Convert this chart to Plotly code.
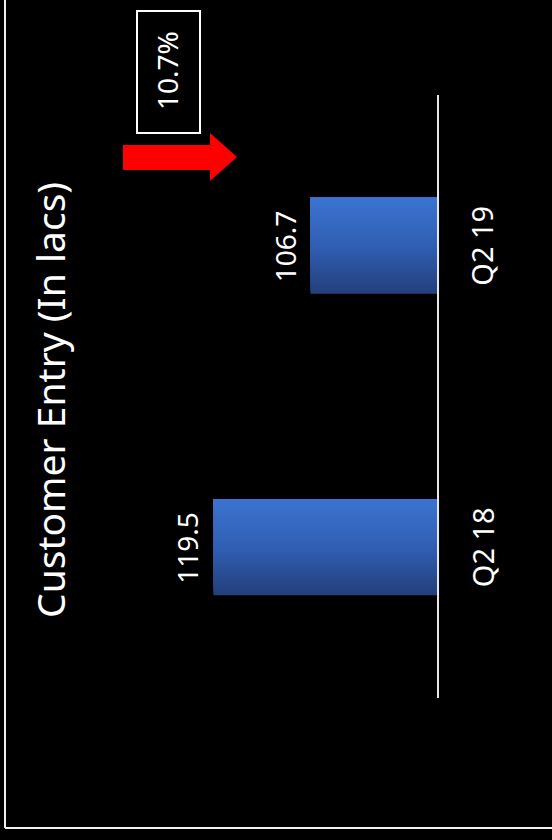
import plotly.graph_objects as go

# ---- data ----
categories = ["Q2 18", "Q2 19"]
values = [119.5, 106.7]
value_labels = ["119.5", "106.7"]
growth_label = "10.7%"
title_text = "Customer Entry (In lacs)"

# ---- page geometry (pixels) ----
W, H = 552, 840
AXIS_MIN = 90.0          # value axis starts here
PX_PER_UNIT = 7.578      # value-axis scale
BASE_X = 437             # baseline position
PLOT_TOP, PLOT_BOTTOM = 95, 698
BAR_WIDTH = 0.318
FONT = "Noto Sans"


def px(x):
    return x / W


def py(y):
    return 1 - y / H


def mix(c1, c2, t):
    return "#%02x%02x%02x" % tuple(round(a + (b - a) * t) for a, b in zip(c1, c2))


# gradient across bar thickness: dark at the bottom edge, light at the top edge
DARK, MID, LIGHT = (0x24, 0x40, 0x7c), (0x30, 0x5f, 0xb4), (0x3b, 0x73, 0xd0)


def grad(t):
    return mix(DARK, MID, t / 0.5) if t < 0.5 else mix(MID, LIGHT, (t - 0.5) / 0.5)


fig = go.Figure()

N = 40
step = BAR_WIDTH / N
for i in range(N):
    fig.add_trace(go.Bar(
        y=categories,
        x=values,
        orientation="h",
        width=BAR_WIDTH - i * step,
        offset=-BAR_WIDTH / 2 + i * step,
        marker=dict(color=grad(i / (N - 1)), line=dict(width=0)),
        showlegend=False,
        hoverinfo="skip" if i else "x+y",
    ))

annotations = []
# value labels just beyond the bar ends
for cat, val, lab in zip(categories, values, value_labels):
    annotations.append(dict(
        x=val, y=cat, xref="x", yref="y", text=lab, textangle=-90,
        showarrow=False, xanchor="right", yanchor="middle", xshift=-5,
        font=dict(family=FONT, size=28, color="white"),
    ))
# category labels below the baseline
for cat in categories:
    annotations.append(dict(
        x=px(482), y=cat, xref="paper", yref="y", text=cat, textangle=-90,
        showarrow=False, xanchor="center", yanchor="middle",
        font=dict(family=FONT, size=29, color="white"),
    ))
# chart title
annotations.append(dict(
    x=px(49), y=py(400), xref="paper", yref="paper", text=title_text,
    textangle=-90, showarrow=False, xanchor="center", yanchor="middle",
    font=dict(family=FONT, size=39, color="white"),
))
# growth badge text
annotations.append(dict(
    x=px(167), y=py(71), xref="paper", yref="paper", text=growth_label,
    textangle=-90, showarrow=False, xanchor="center", yanchor="middle",
    font=dict(family=FONT, size=28, color="white"),
))

arrow_pts = [(123, 145), (210, 145), (210, 133), (237, 157), (210, 181),
             (210, 170), (123, 170)]
arrow_path = "M " + " L ".join(f"{px(x):.5f},{py(y):.5f}" for x, y in arrow_pts) + " Z"

shapes = [
    # badge frame
    dict(type="rect", xref="paper", yref="paper",
         x0=px(137), x1=px(200), y0=py(133), y1=py(11),
         line=dict(color="white", width=2), fillcolor="rgba(0,0,0,0)"),
    # red arrow
    dict(type="path", xref="paper", yref="paper", path=arrow_path,
         fillcolor="#ff0000", line=dict(width=0)),
    # outer frame (left and bottom edges)
    dict(type="line", xref="paper", yref="paper",
         x0=px(5), x1=px(5), y0=py(0), y1=py(828),
         line=dict(color="#f0f0f0", width=2)),
    dict(type="line", xref="paper", yref="paper",
         x0=px(5), x1=px(552), y0=py(828), y1=py(828),
         line=dict(color="#f0f0f0", width=2)),
]

fig.update_layout(
    width=W, height=H,
    margin=dict(l=0, r=0, t=0, b=0),
    paper_bgcolor="black", plot_bgcolor="black",
    barmode="overlay",
    showlegend=False,
    xaxis=dict(
        domain=[0, px(BASE_X)],
        range=[AXIS_MIN + BASE_X / PX_PER_UNIT, AXIS_MIN],
        visible=False,
    ),
    yaxis=dict(
        domain=[py(PLOT_BOTTOM), py(PLOT_TOP)],
        type="category",
        categoryorder="array", categoryarray=categories,
        range=[-0.5, 1.5],
        side="right",
        showline=True, linecolor="#e8e8e8", linewidth=2,
        showticklabels=False, ticks="", showgrid=False, zeroline=False,
    ),
    annotations=annotations,
    shapes=shapes,
)

fig.write_html("out.html")
